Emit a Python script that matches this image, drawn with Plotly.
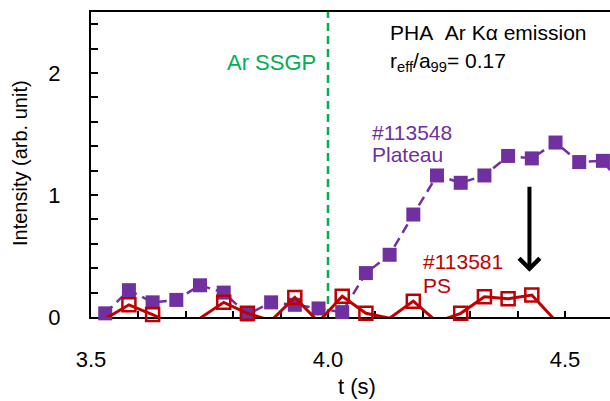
import plotly.graph_objects as go

# ---- data ----
t = [3.53, 3.58, 3.63, 3.68, 3.73, 3.78, 3.83, 3.88, 3.93, 3.98, 4.03, 4.08,
     4.13, 4.18, 4.23, 4.28, 4.33, 4.38, 4.43, 4.48, 4.53, 4.58, 4.63]
plateau = [0.03, 0.22, 0.12, 0.14, 0.26, 0.20, 0.02, 0.12, 0.10, 0.07, 0.04, 0.36,
           0.51, 0.84, 1.16, 1.10, 1.16, 1.32, 1.30, 1.43, 1.27, 1.28, 1.03]
ps = [-0.015, 0.10, 0.02, -0.07, -0.01, 0.12, 0.03, -0.03, 0.16, -0.04, 0.17, 0.03,
      -0.01, 0.13, -0.04, 0.03, 0.165, 0.15, 0.18, -0.03, -0.06, -0.05, -0.05]
ssgp_time = 4.0
arrow_x = 4.425
arrow_from = 1.08
arrow_to = 0.37
x_ticks = [3.5, 4.0, 4.5]
y_ticks = [0, 1, 2]

PURPLE = "#7030A0"
RED = "#C00000"
GREEN = "#00B050"
FONT = "Arial, Liberation Sans, sans-serif"

fig = go.Figure()
fig.add_trace(go.Scatter(
    x=t, y=plateau, mode="lines+markers", cliponaxis=False,
    line=dict(color=PURPLE, width=2.5, dash="10px,6px"),
    marker=dict(symbol="square", size=14, color=PURPLE),
    showlegend=False))
fig.add_trace(go.Scatter(
    x=t, y=ps, mode="lines+markers", cliponaxis=False,
    line=dict(color=RED, width=3),
    marker=dict(symbol="square-open", size=13, color=RED, line=dict(width=2.5, color=RED)),
    showlegend=False))

fig.add_shape(type="line", xref="x", yref="y", x0=ssgp_time, x1=ssgp_time, y0=0, y1=2.5,
              line=dict(color=GREEN, width=2.5, dash="8px,5px"), layer="below")

ann = []
def txt(x, y, s, color, xanchor="left", size=21):
    ann.append(dict(x=x, y=y, xref="x", yref="y", text=s, showarrow=False,
                    xanchor=xanchor, yanchor="middle",
                    font=dict(family=FONT, size=size, color=color)))

txt(3.978, 2.09, "Ar SSGP", GREEN, xanchor="right", size=22)
txt(4.127, 2.33, "PHA\u00a0\u00a0Ar K\u03b1 emission", "black")
txt(4.127, 2.09, "r<sub>eff</sub>/a<sub>99</sub>= 0.17", "black")
txt(4.089, 1.516, "#113548", PURPLE)
txt(4.089, 1.328, "Plateau", PURPLE)
txt(4.197, 0.451, "#113581", RED)
txt(4.197, 0.262, "PS", RED)

ann.append(dict(x=arrow_x, y=arrow_to, ax=arrow_x, ay=arrow_from, xref="x", yref="y",
                axref="x", ayref="y", text="", showarrow=True, arrowhead=4,
                arrowwidth=4, arrowsize=1, arrowcolor="black"))

ann.append(dict(x=(357 - 91) / 519, y=(317 - 386) / 305, xref="paper", yref="paper",
                text="t (s)", showarrow=False, xanchor="center", yanchor="middle",
                font=dict(family=FONT, size=22, color="black")))
ann.append(dict(x=(20 - 91) / 519, y=(317 - 163) / 305, xref="paper", yref="paper",
                text="Intensity (arb. unit)", showarrow=False, textangle=-90,
                xanchor="center", yanchor="middle",
                font=dict(family=FONT, size=20, color="black")))

fig.update_layout(
    width=610, height=401,
    margin=dict(l=91, r=0, t=12, b=84),
    paper_bgcolor="white", plot_bgcolor="white",
    annotations=ann,
    font=dict(family=FONT, size=22, color="black"),
    xaxis=dict(range=[3.5, 3.5 + 519 / 474], tickvals=x_ticks, tickformat=".1f",
               ticks="inside", ticklen=6, tickwidth=2, tickcolor="black",
               minor=dict(dtick=0.1, tick0=3.5, ticks="inside", ticklen=6, tickwidth=2, tickcolor="black"),
               showline=True, linecolor="black", linewidth=2, mirror=True,
               showgrid=False, zeroline=False, ticklabelstandoff=22,
               layer="below traces", tickfont=dict(size=22)),
    yaxis=dict(range=[0, 2.5], tickvals=y_ticks,
               ticks="inside", ticklen=7, tickwidth=2, tickcolor="black",
               minor=dict(dtick=0.2, tick0=0, ticks="inside", ticklen=7, tickwidth=2, tickcolor="black"),
               showline=True, linecolor="black", linewidth=2, mirror=False,
               showgrid=False, zeroline=False, ticklabelstandoff=24,
               layer="below traces", tickfont=dict(size=22)),
)

fig.write_html("out.html")
